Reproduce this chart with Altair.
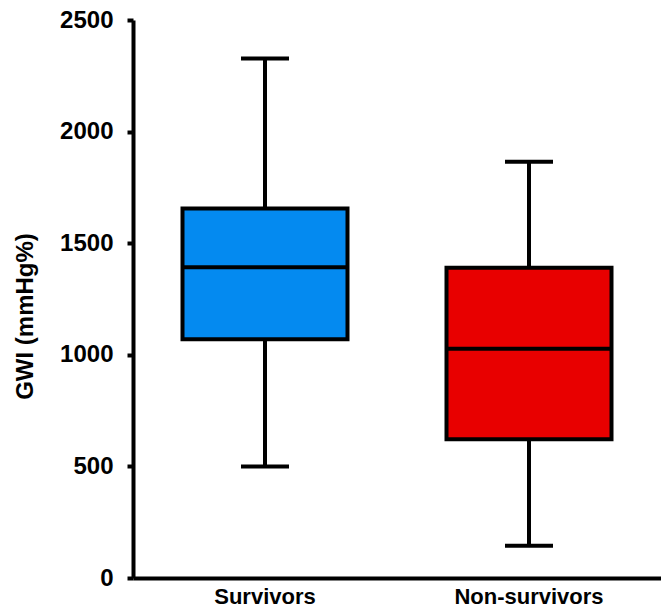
import altair as alt
import pandas as pd

groups = ["Survivors", "Non-survivors"]
lower = [500, 145]
q1 = [1070, 622]
median = [1392, 1027]
q3 = [1656, 1390]
upper = [2328, 1865]
colors = ["#048AF0", "#E80000"]
y_ticks = [0, 500, 1000, 1500, 2000, 2500]

df = pd.DataFrame({"group": groups, "lower": lower, "q1": q1, "median": median,
                   "q3": q3, "upper": upper})

FONT = "Liberation Sans"

x_enc = alt.X("group:N", sort=groups,
              scale=alt.Scale(paddingInner=0, paddingOuter=0),
              axis=alt.Axis(title=None, labelAngle=0, labelFontSize=22, ticks=False,
                            labelPadding=8, grid=False))
x_plain = alt.X("group:N", sort=groups, scale=alt.Scale(paddingInner=0, paddingOuter=0))
y_scale = alt.Scale(domain=[0, 2500], nice=False)
y_axis = alt.Axis(title="GWI (mmHg%)", values=y_ticks, format="d", grid=False,
                  tickSize=6, labelFontSize=24, labelPadding=14,
                  titleFontSize=24, titlePadding=22, titleY=296)

base = alt.Chart(df)

whisker = base.mark_rule(color="black", strokeWidth=4).encode(
    x=x_enc,
    y=alt.Y("lower:Q", scale=y_scale, axis=y_axis),
    y2="upper:Q",
)
caps_low = base.mark_tick(color="black", size=48, thickness=4, opacity=1).encode(
    x=x_plain, y=alt.Y("lower:Q", scale=y_scale))
caps_high = base.mark_tick(color="black", size=48, thickness=4, opacity=1).encode(
    x=x_plain, y=alt.Y("upper:Q", scale=y_scale))
box = base.mark_bar(size=165, stroke="black", strokeWidth=4).encode(
    x=x_plain,
    y=alt.Y("q1:Q", scale=y_scale),
    y2="q3:Q",
    color=alt.Color("group:N", scale=alt.Scale(domain=groups, range=colors), legend=None),
)
med = base.mark_tick(color="black", size=165, thickness=4, opacity=1).encode(
    x=x_plain, y=alt.Y("median:Q", scale=y_scale))

chart = alt.layer(whisker, caps_low, caps_high, box, med).properties(
    width=528, height=558,
    autosize=alt.AutoSizeParams(type="none"),
    padding={"left": 133, "top": 20, "right": 0, "bottom": 35},
).configure(
    background="white",
    view=alt.ViewConfig(stroke=None),
    axis=alt.AxisConfig(
        domainWidth=4, domainColor="black", tickWidth=4, tickColor="black",
        labelFont=FONT, labelFontWeight="bold", labelColor="black",
        titleFont=FONT, titleFontWeight="bold", titleColor="black", grid=False,
    ),
)

chart.save("out.html", embed_options={"renderer": "svg", "actions": False})
